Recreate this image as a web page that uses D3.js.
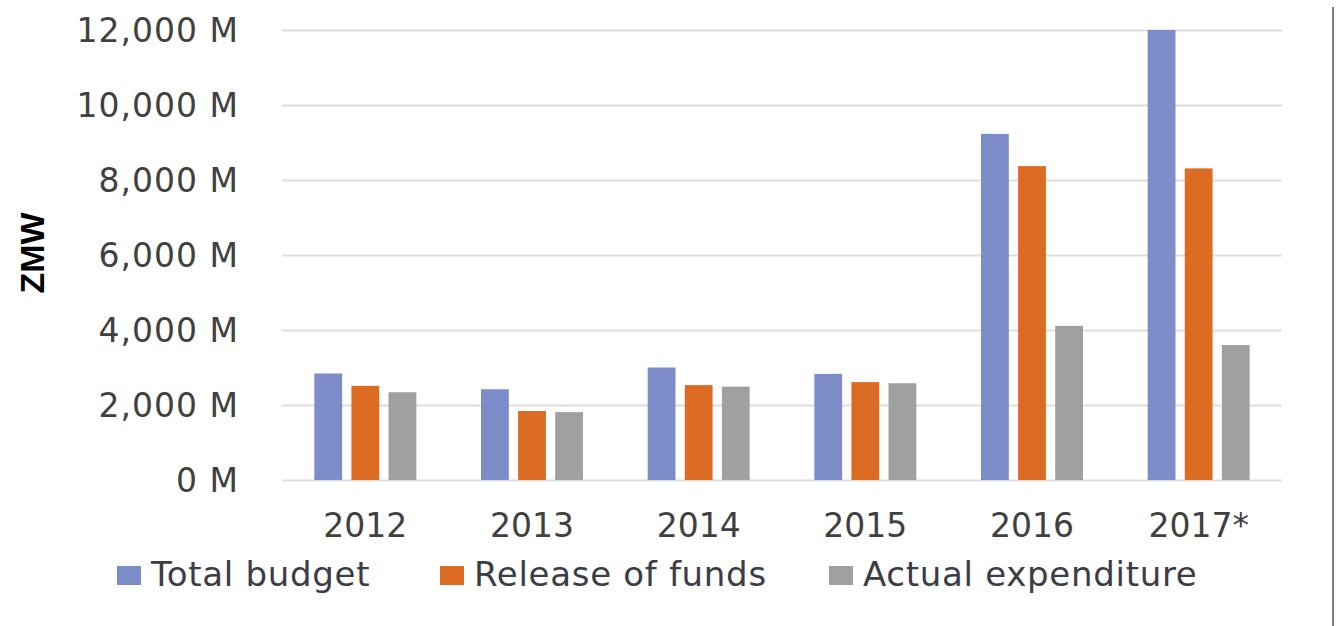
<!DOCTYPE html>
<html>
<head>
<meta charset="utf-8">
<script src="https://cdn.jsdelivr.net/npm/d3@7"></script>
<style>
  html, body { margin: 0; padding: 0; background: #fff; }
  svg { display: block; }
  text { font-family: "DejaVu Sans", sans-serif; fill: #404040; }
</style>
</head>
<body>
<svg id="chart" width="1341" height="626"></svg>
<script>
"use strict";

// values (millions of ZMW)
const years = ["2012", "2013", "2014", "2015", "2016", "2017*"];
const series = ["Total budget", "Release of funds", "Actual expenditure"];
const totalBudget = [2840, 2420, 3000, 2830, 9230, 12000];
const releaseOfFunds = [2510, 1840, 2530, 2610, 8370, 8310];
const actualExpenditure = [2340, 1810, 2490, 2580, 4110, 3600];
const yTicks = [0, 2000, 4000, 6000, 8000, 10000, 12000];

const colors = ["#7c8dc9", "#dc6c24", "#a0a0a0"];

const rows = years.map((y, i) => ({
  year: y,
  values: [totalBudget[i], releaseOfFunds[i], actualExpenditure[i]]
}));

const svg = d3.select("#chart");
const plotLeft = 282, plotRight = 1282, plotTop = 30, plotBottom = 480;

const x = d3.scaleBand()
    .domain(years)
    .range([plotLeft, plotRight])
    .paddingInner(0.388)
    .paddingOuter(0.194);

const xs = d3.scaleBand()
    .domain(series)
    .range([0, x.bandwidth()])
    .paddingInner(0.25);

const y = d3.scaleLinear()
    .domain([0, 12000])
    .range([plotBottom, plotTop]);

// gridlines + y labels
const yAxis = d3.axisLeft(y)
    .tickValues(yTicks)
    .tickSize(-(plotRight - plotLeft))
    .tickPadding(43)
    .tickFormat(d => d3.format(",")(d) + " M");

const gy = svg.append("g")
    .attr("transform", `translate(${plotLeft},0)`)
    .call(yAxis);
gy.select(".domain").remove();
gy.selectAll(".tick line")
    .attr("stroke", "#dedede")
    .attr("stroke-width", 2);
gy.selectAll(".tick text")
    .attr("fill", "#3c3c46")
    .style("font-size", "33px")
    .style("letter-spacing", "1px")
    .attr("dy", "0.36em");

// bars
const groups = svg.append("g")
  .selectAll("g")
  .data(rows)
  .join("g")
    .attr("transform", d => `translate(${x(d.year)},0)`);

groups.selectAll("rect")
  .data(d => d.values.map((v, k) => ({ key: series[k], value: v, k: k })))
  .join("rect")
    .attr("x", d => xs(d.key))
    .attr("y", d => y(d.value))
    .attr("width", xs.bandwidth())
    .attr("height", d => y(0) - y(d.value))
    .attr("fill", d => colors[d.k]);

// x labels
const xAxis = d3.axisBottom(x).tickSize(0).tickPadding(0);
const gx = svg.append("g")
    .attr("transform", `translate(0,${plotBottom})`)
    .call(xAxis);
gx.select(".domain").remove();
gx.selectAll(".tick text")
    .attr("fill", "#3c3c46")
    .attr("y", 57)
    .attr("dy", null)
    .style("font-size", "33px");

// y title
svg.append("text")
    .attr("transform", "translate(44,253) rotate(-90)")
    .attr("text-anchor", "middle")
    .style("font-family", "'Liberation Sans', Arial, sans-serif")
    .style("font-weight", "bold")
    .style("font-size", "34px")
    .style("fill", "#000")
    .text("ZMW");

// legend
const legendX = [117, 440, 829];
const legend = svg.append("g")
  .selectAll("g")
  .data(series)
  .join("g")
    .attr("transform", (d, i) => `translate(${legendX[i]},566)`);

legend.append("rect")
    .attr("width", 24)
    .attr("height", 19)
    .attr("fill", (d, i) => colors[i]);

legend.append("text")
    .attr("x", 34)
    .attr("y", 20)
    .style("font-size", "34px")
    .style("letter-spacing", "0.7px")
    .style("fill", "#3c3c46")
    .text(d => d);

// frame line on the right
svg.append("line")
    .attr("x1", 1333).attr("x2", 1333)
    .attr("y1", 7).attr("y2", 626)
    .attr("stroke", "#7f7f7f")
    .attr("stroke-width", 2);
</script>
</body>
</html>
